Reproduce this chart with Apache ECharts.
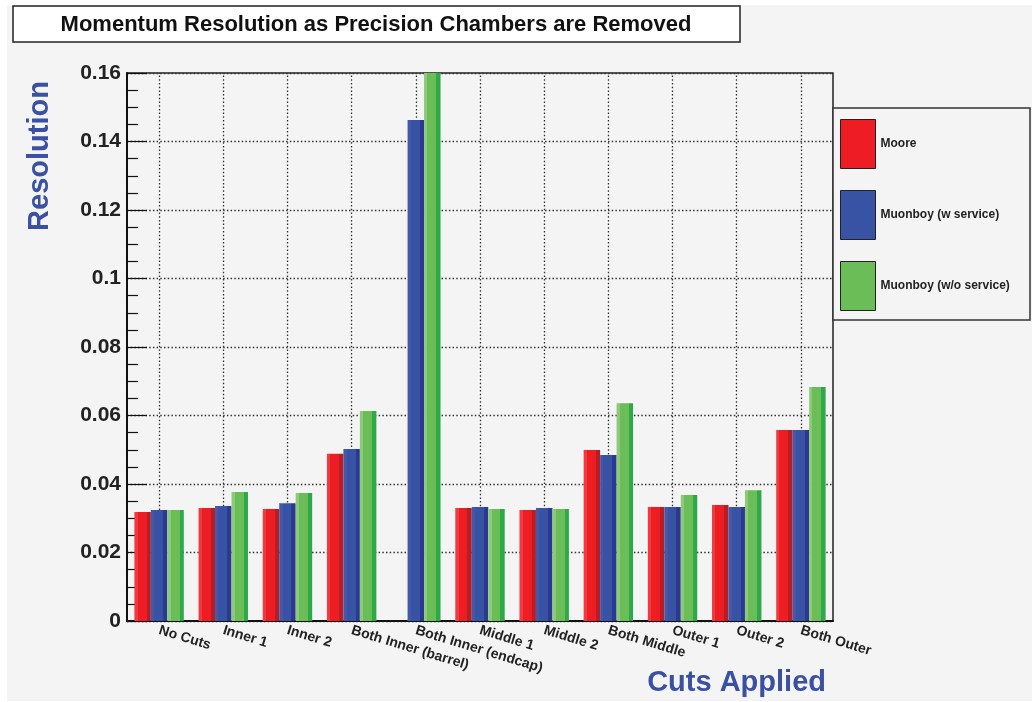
<!DOCTYPE html>
<html>
<head>
<meta charset="utf-8">
<script src="https://cdn.jsdelivr.net/npm/echarts@6/dist/echarts.min.js"></script>
<style>
html,body{margin:0;padding:0;background:#fff;}
#chart{width:1032px;height:702px;}
</style>
</head>
<body>
<div id="chart"></div>
<script>
const categories = ['No Cuts','Inner 1','Inner 2','Both Inner (barrel)','Both Inner (endcap)','Middle 1','Middle 2','Both Middle','Outer 1','Outer 2','Both Outer'];
const moore     = [0.0318,0.0330,0.0327,0.0488,0,     0.0330,0.0324,0.0499,0.0333,0.0339,0.0558];
const muonboyW  = [0.0324,0.0336,0.0344,0.0502,0.1463,0.0333,0.0330,0.0485,0.0333,0.0333,0.0558];
const muonboyWo = [0.0324,0.0377,0.0374,0.0613,0.16,  0.0327,0.0327,0.0636,0.0368,0.0382,0.0683];
const seriesNames = ['Moore','Muonboy (w service)','Muonboy (w/o service)'];
const yTicks = {min:0, max:0.16, interval:0.02};

const FONT = '"Liberation Sans", Arial, Helvetica, sans-serif';
function bevel(light, main, dark){
  return new echarts.graphic.LinearGradient(0,0,1,0,[
    {offset:0,color:light},{offset:0.2,color:light},
    {offset:0.2,color:main},{offset:0.74,color:main},
    {offset:0.74,color:dark},{offset:1,color:dark}
  ]);
}
const pal = [
  {solid:'#ee1d24', fill:bevel('#f03a40','#ee1d24','#b31f24')},
  {solid:'#3953a4', fill:bevel('#4358a8','#3953a4','#2b3990')},
  {solid:'#6abd57', fill:bevel('#8cca7a','#6abd57','#2fa84a')}
];
const dataSets = [moore, muonboyW, muonboyWo];

const chart = echarts.init(document.getElementById('chart'), null, {renderer:'canvas'});
const dotted = {color:'#333', width:1.3, type:[1.5,2.2]};

const barSeries = seriesNames.map((n,i)=>({
  name:n, type:'bar', data:dataSets[i],
  barGap:'0%', barCategoryGap:'23%',
  clip:true, z:2,
  itemStyle:{color:pal[i].fill}
}));
const gridSeries = {
  name:'vgrid', type:'line', data:[], z:1, silent:true,
  markLine:{
    z:1, silent:true, symbol:'none', animation:false,
    label:{show:false},
    lineStyle:dotted,
    data: categories.map(c=>({xAxis:c}))
  }
};

chart.setOption({
  backgroundColor:'#ffffff',
  animation:false,
  textStyle:{fontFamily:FONT},
  graphic:[
    {type:'rect', z:-10, silent:true, shape:{x:7,y:5,width:1025,height:696}, style:{fill:'#f3f4f3'}},
    {type:'rect', z:10, shape:{x:13,y:6,width:727,height:36}, style:{fill:'#ffffff', stroke:'#222', lineWidth:1.5}},
    {type:'text', z:11, x:376, y:25, style:{text:'Momentum Resolution as Precision Chambers are Removed', font:'bold 22px '+FONT, fill:'#111', textAlign:'center', textVerticalAlign:'middle'}},
    {type:'rect', z:10, shape:{x:833,y:108,width:197,height:212}, style:{fill:'#f3f4f3', stroke:'#333', lineWidth:1.5}},
    {type:'text', z:11, x:40, y:156, rotation:Math.PI/2, style:{text:'Resolution', font:'bold 29px '+FONT, fill:'#3a50a2', textAlign:'center', textVerticalAlign:'middle'}},
    {type:'text', z:11, x:826, y:683, style:{text:'Cuts Applied', font:'bold 29px '+FONT, fill:'#3a50a2', textAlign:'right', textVerticalAlign:'middle'}}
  ],
  legend:{
    z:20,
    orient:'vertical', left:835, top:114,
    icon:'rect',
    itemWidth:35, itemHeight:49, itemGap:21,
    textStyle:{fontSize:12, fontWeight:'bold', color:'#222', fontFamily:FONT},
    data: seriesNames.map((n,i)=>({name:n, icon:'rect', itemStyle:{color:pal[i].solid, borderColor:'#222', borderWidth:1}}))
  },
  grid:{left:127, right:199, top:73, bottom:81, show:true, borderColor:'#222', borderWidth:1.5, backgroundColor:'transparent'},
  xAxis:{
    type:'category', data:categories,
    axisLine:{lineStyle:{color:'#111', width:2}},
    axisTick:{show:false},
    splitLine:{show:false},
    axisLabel:{interval:0, rotate:-17, margin:9, fontSize:14, fontWeight:'bold', color:'#222', fontFamily:FONT}
  },
  yAxis:{
    type:'value', min:yTicks.min, max:yTicks.max, interval:yTicks.interval,
    axisLine:{show:true, lineStyle:{color:'#111', width:2}},
    axisTick:{show:true, inside:true, length:20, lineStyle:{color:'#111', width:1.2}},
    minorTick:{show:true, splitNumber:4, length:11, lineStyle:{color:'#111', width:1.2}},
    splitLine:{show:true, lineStyle:dotted},
    axisLabel:{fontSize:21, fontWeight:'bold', color:'#222', margin:6, fontFamily:FONT}
  },
  series: barSeries.concat([gridSeries])
});
</script>
</body>
</html>
